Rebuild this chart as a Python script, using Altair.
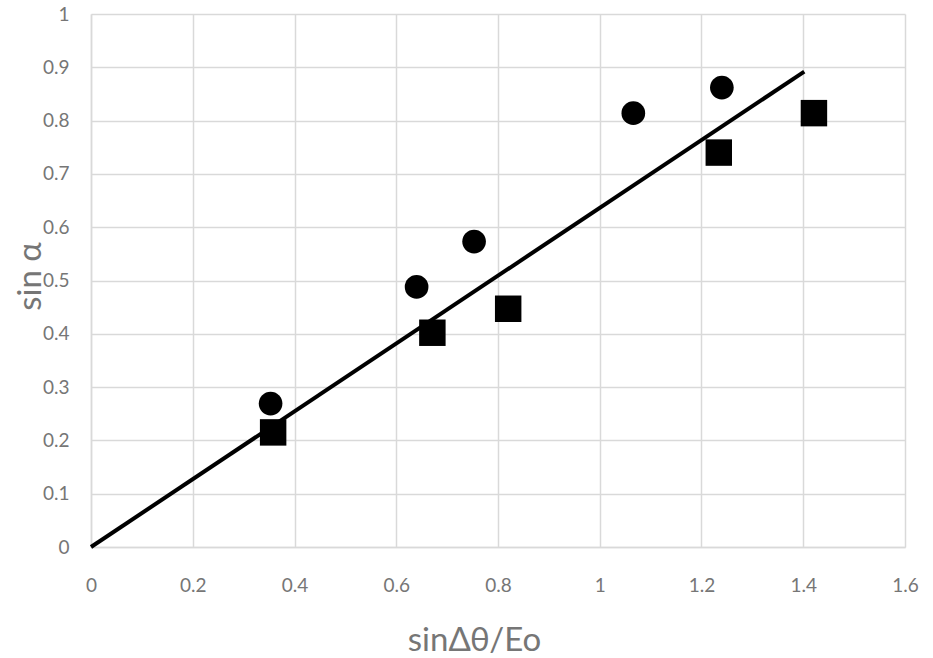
import altair as alt
import pandas as pd

# Circle series
circle_x = [0.353, 0.640, 0.753, 1.066, 1.240]
circle_y = [0.269, 0.488, 0.573, 0.814, 0.862]
# Square series
square_x = [0.358, 0.671, 0.820, 1.234, 1.421]
square_y = [0.215, 0.402, 0.447, 0.740, 0.814]
# Fit line endpoints
line_x = [0.0, 1.402]
line_y = [0.0, 0.892]

x_ticks = [0, 0.2, 0.4, 0.6, 0.8, 1.0, 1.2, 1.4, 1.6]
y_ticks = [0, 0.1, 0.2, 0.3, 0.4, 0.5, 0.6, 0.7, 0.8, 0.9, 1.0]

circles = pd.DataFrame({"x": circle_x, "y": circle_y})
squares = pd.DataFrame({"x": square_x, "y": square_y})
line = pd.DataFrame({"x": line_x, "y": line_y})

FONT = "Lato"
TXT = "#767676"
GRID = "#d9d9d9"

xs = alt.Scale(domain=[0, 1.6], nice=False, zero=False)
ys = alt.Scale(domain=[0, 1], nice=False, zero=False)

xaxis = alt.Axis(values=x_ticks, format="~g", title="sinΔθ/Eo", grid=True,
                 gridColor=GRID, gridWidth=1.5, domainColor=GRID, domainWidth=1.5,
                 ticks=False, labelPadding=29, labelFontSize=19, labelColor=TXT,
                 labelFlush=False,
                 labelFont=FONT, titleFont=FONT, titleFontSize=33, titleColor=TXT,
                 titleFontWeight="normal", titleX=383, titleY=103,
                 titleBaseline="alphabetic", titleAlign="center")
yaxis = alt.Axis(values=y_ticks, format="~g", title="sin α", grid=True,
                 gridColor=GRID, gridWidth=1.5, domainColor=GRID, domainWidth=1.5,
                 ticks=False, labelPadding=22, labelFontSize=19, labelColor=TXT,
                 labelFlush=False,
                 labelFont=FONT, titleFont=FONT, titleFontSize=33, titleColor=TXT,
                 titleFontWeight="normal", titleX=-51, titleY=262,
                 titleBaseline="alphabetic", titleAlign="center", titleAngle=270)

line_layer = alt.Chart(line).mark_line(color="black", strokeWidth=4).encode(
    x=alt.X("x:Q", scale=xs, axis=xaxis),
    y=alt.Y("y:Q", scale=ys, axis=yaxis),
)
circle_layer = alt.Chart(circles).mark_point(
    shape="circle", filled=True, color="black", opacity=1, size=560
).encode(x=alt.X("x:Q", scale=xs), y=alt.Y("y:Q", scale=ys))
square_layer = alt.Chart(squares).mark_point(
    shape="square", filled=True, color="black", opacity=1, size=700
).encode(x=alt.X("x:Q", scale=xs), y=alt.Y("y:Q", scale=ys))

chart = alt.layer(line_layer, circle_layer, square_layer).properties(
    width=814, height=533,
    autosize=alt.AutoSizeParams(type="none"),
    padding={"left": 91, "top": 14, "right": 28, "bottom": 111},
    background="white",
).configure_view(stroke=None)

chart.save("out.html", embed_options={"renderer": "svg", "actions": False})
